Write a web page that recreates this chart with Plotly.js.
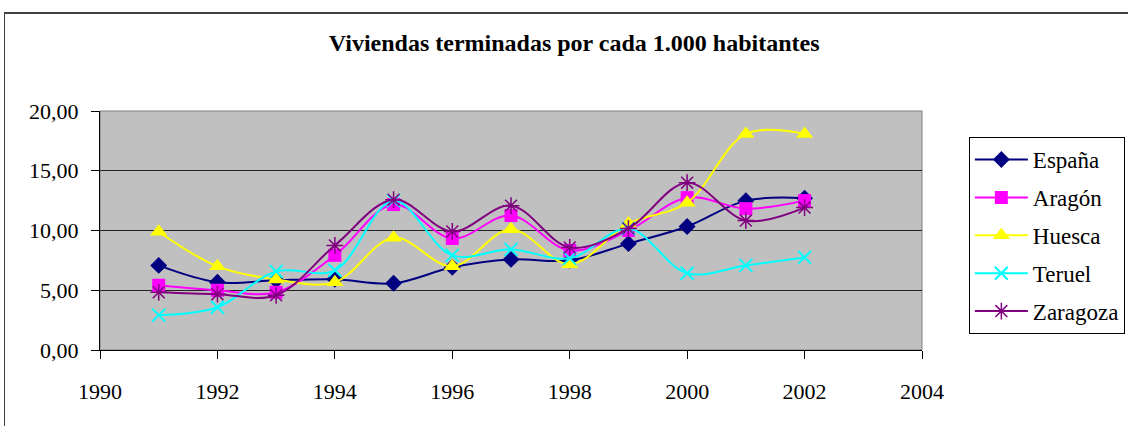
<!DOCTYPE html>
<html>
<head>
<meta charset="utf-8">
<script src="https://cdn.plot.ly/plotly-3.0.1.min.js"></script>
<style>
  html, body { margin: 0; padding: 0; background: #fff; }
  #wrap { position: relative; width: 1128px; height: 426px; overflow: hidden; }
  #chart { position: absolute; left: 0; top: 0; }
  #chart text { font-family: 'Liberation Serif', 'Times New Roman', serif !important; }
  #frame { position: absolute; left: 4px; top: 12px; width: 1130px; height: 420px;
           border-top: 2px solid #404040; border-left: 1px solid #404040; pointer-events: none; }
</style>
</head>
<body>
<div id="wrap">
  <div id="chart"></div>
  <div id="frame"></div>
</div>
<script>
const years = [1991, 1992, 1993, 1994, 1995, 1996, 1997, 1998, 1999, 2000, 2001, 2002];
const espana   = [7.08, 5.67, 5.83, 5.92, 5.58, 6.92, 7.58, 7.5, 8.9, 10.33, 12.5, 12.7];
const aragon   = [5.42, 5.0, 4.83, 7.92, 12.17, 9.33, 11.25, 8.33, 10.0, 12.75, 11.83, 12.5];
const huesca   = [9.9, 7.0, 5.9, 5.67, 9.4, 7.0, 10.1, 7.17, 10.58, 12.33, 18.08, 18.08];
const teruel   = [2.92, 3.58, 6.58, 6.67, 12.5, 7.92, 8.42, 7.67, 10.17, 6.42, 7.08, 7.75];
const zaragoza = [4.83, 4.67, 4.58, 8.75, 12.58, 9.92, 12.08, 8.58, 10.17, 14.0, 10.83, 11.92];
const seriesNames = ['España', 'Aragón', 'Huesca', 'Teruel', 'Zaragoza'];
const titleText = 'Viviendas terminadas por cada 1.000 habitantes';

const styles = [
  {color: '#000080', symbol: 'diamond', size: 13, lw: 0},
  {color: '#FF00FF', symbol: 'square', size: 13, lw: 0},
  {color: '#FFFF00', symbol: 'triangle-up', size: 15, lw: 0},
  {color: '#00FFFF', symbol: 'x-thin-open', size: 13, lw: 2},
  {color: '#800080', symbol: 'asterisk-open', size: 14, lw: 1.5}
];
const data = [espana, aragon, huesca, teruel, zaragoza];

const traces = data.map((ys, i) => ({
  type: 'scatter',
  mode: 'lines+markers',
  x: years,
  y: ys,
  name: seriesNames[i],
  legendgroup: 'g' + i,
  line: {color: styles[i].color, width: 2, shape: 'spline', smoothing: 1},
  marker: {color: styles[i].color, symbol: styles[i].symbol, size: styles[i].size,
           line: {color: styles[i].color, width: styles[i].lw}}
}));

const FAM = 'Liberation Serif';
const layout = {
  width: 1128, height: 426,
  margin: {l: 100, r: 206, t: 111, b: 76, autoexpand: false},
  paper_bgcolor: '#ffffff',
  plot_bgcolor: '#C0C0C0',
  separators: ',.',
  title: {text: '<b>' + titleText + '</b>', font: {family: FAM, size: 24, color: '#000000'},
          xref: 'container', yref: 'container', x: 0.509, y: 0.899, xanchor: 'center', yanchor: 'middle'},
  xaxis: {range: [1990, 2004], dtick: 2, tick0: 1990, tickformat: 'd', showgrid: false, zeroline: false,
          showline: true, linecolor: '#000', linewidth: 1, ticks: 'outside', ticklen: 8, tickcolor: '#000',
          ticklabelstandoff: 14, tickfont: {family: FAM, size: 22, color: '#000000'}},
  yaxis: {range: [0, 20], dtick: 5, tick0: 0, tickformat: '.2f', showgrid: true, gridcolor: '#222', gridwidth: 1,
          zeroline: false, showline: true, linecolor: '#000', linewidth: 1, ticks: 'outside', ticklen: 8,
          tickcolor: '#000', ticklabelstandoff: 8, tickfont: {family: FAM, size: 22, color: '#000000'}},
  shapes: [{type: 'rect', xref: 'paper', yref: 'paper', x0: 0, x1: 1, y0: 0, y1: 1,
            line: {color: '#808080', width: 1}, layer: 'below'}],
  legend: {x: 1.057, y: 0.891, xanchor: 'left', yanchor: 'top', bgcolor: '#fff', bordercolor: '#000', borderwidth: 1,
           font: {family: FAM, size: 23, color: '#000000'}, itemwidth: 53, traceorder: 'grouped', tracegroupgap: 5},
  showlegend: true
};

Plotly.newPlot('chart', traces, layout, {displayModeBar: false, staticPlot: true}).then(function (gd) {
  gd.querySelectorAll('text').forEach(function (t) {
    t.style.setProperty('font-family', "'Liberation Serif', 'Times New Roman', serif", 'important');
  });
});
</script>
</body>
</html>
